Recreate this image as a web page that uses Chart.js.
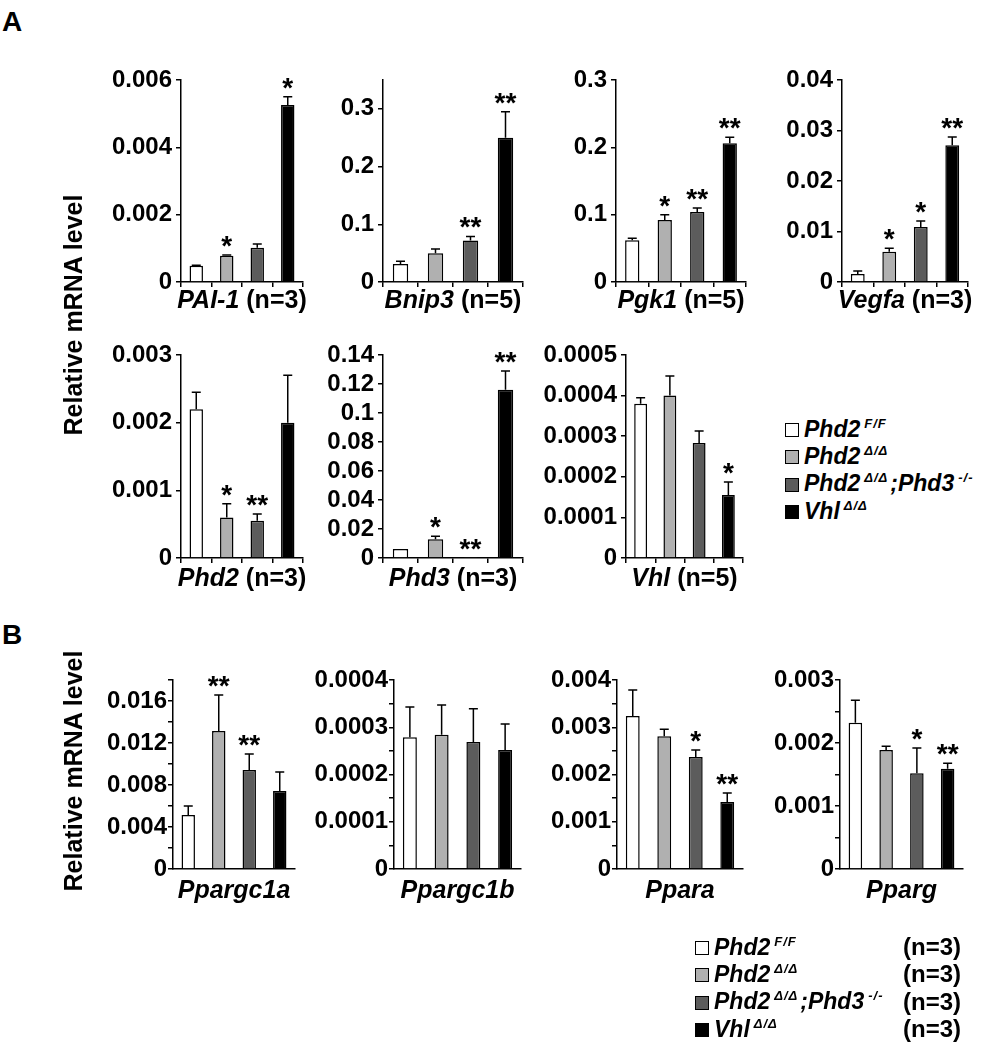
<!DOCTYPE html>
<html><head><meta charset="utf-8">
<script src="https://cdn.jsdelivr.net/npm/chart.js@4.4.1/dist/chart.umd.min.js"></script>
<style>
html,body{margin:0;padding:0;background:#fff}
body{width:989px;height:1050px;position:relative;overflow:hidden;font-family:'Liberation Sans',Arial,Helvetica,sans-serif;color:#000}
.abs{position:absolute;white-space:nowrap}
canvas{position:absolute}
.gl{font-weight:bold;font-size:25px;line-height:25px;text-align:center}
.gl i{font-style:italic}
.ytitle{font-weight:bold;font-size:25px;line-height:30px;width:320px;height:30px;text-align:center;transform:rotate(-90deg)}
.panel{font-weight:bold;font-size:28px;line-height:28px}
.sq{position:absolute;width:14px;height:14px;border:1.5px solid #000;box-sizing:border-box}
.lt{font-weight:bold;font-style:italic;font-size:23px;line-height:23px}
.lt span.sp{font-size:13px;position:relative;top:-9px;margin-left:4px;margin-right:2px;letter-spacing:1px}
.nn{font-weight:bold;font-size:24px;line-height:24px}
</style></head><body>
<script>
// ---- data ----
const groups = ['Phd2 F/F', 'Phd2 Δ/Δ', 'Phd2 Δ/Δ;Phd3 -/-', 'Vhl Δ/Δ'];
const groupN = ['(n=3)', '(n=3)', '(n=3)', '(n=3)'];

const pai1Mean = [0.00048, 0.00078, 0.00102, 0.00526];
const pai1Err  = [0.00002, 0.00002, 0.00011, 0.00024];
const pai1Sig  = ['', '*', '', '*'];
const pai1Ticks = ['0', '0.002', '0.004', '0.006'];

const bnip3Mean = [0.031, 0.050, 0.072, 0.250];
const bnip3Err  = [0.005, 0.007, 0.007, 0.045];
const bnip3Sig  = ['', '', '**', '**'];
const bnip3Ticks = ['0', '0.1', '0.2', '0.3'];

const pgk1Mean = [0.062, 0.092, 0.104, 0.206];
const pgk1Err  = [0.003, 0.008, 0.006, 0.009];
const pgk1Sig  = ['', '*', '**', '**'];
const pgk1Ticks = ['0', '0.1', '0.2', '0.3'];

const vegfaMean = [0.0016, 0.0060, 0.0109, 0.0271];
const vegfaErr  = [0.0006, 0.0007, 0.0012, 0.0016];
const vegfaSig  = ['', '*', '*', '**'];
const vegfaTicks = ['0', '0.01', '0.02', '0.03', '0.04'];

const phd2Mean = [0.0022, 0.0006, 0.00055, 0.0020];
const phd2Err  = [0.00025, 0.0002, 0.0001, 0.0007];
const phd2Sig  = ['', '*', '**', ''];
const phd2Ticks = ['0', '0.001', '0.002', '0.003'];

const phd3Mean = [0.0062, 0.013, 0.0003, 0.116];
const phd3Err  = [0, 0.002, 0, 0.013];
const phd3Sig  = ['', '*', '**', '**'];
const phd3Ticks = ['0', '0.02', '0.04', '0.06', '0.08', '0.1', '0.12', '0.14'];

const vhlMean = [0.00038, 0.00040, 0.000283, 0.000155];
const vhlErr  = [0.000015, 0.000048, 0.00003, 0.000032];
const vhlSig  = ['', '', '', '*'];
const vhlTicks = ['0', '0.0001', '0.0002', '0.0003', '0.0004', '0.0005'];

const ppargc1aMean = [0.00514, 0.01314, 0.00943, 0.00743];
const ppargc1aErr  = [0.00086, 0.00343, 0.00152, 0.00181];
const ppargc1aSig  = ['', '**', '**', ''];
const ppargc1aTicks = ['0', '0.004', '0.008', '0.012', '0.016'];

const ppargc1bMean = [0.000279, 0.000284, 0.000269, 0.000252];
const ppargc1bErr  = [0.000064, 0.000063, 0.00007, 0.000055];
const ppargc1bSig  = ['', '', '', ''];
const ppargc1bTicks = ['0', '0.0001', '0.0002', '0.0003', '0.0004'];

const pparaMean = [0.00324, 0.00281, 0.00237, 0.00142];
const pparaErr  = [0.00055, 0.00015, 0.00015, 0.00019];
const pparaSig  = ['', '', '*', '**'];
const pparaTicks = ['0', '0.001', '0.002', '0.003', '0.004'];

const ppargMean = [0.00232, 0.00189, 0.00152, 0.00159];
const ppargErr  = [0.00036, 0.00006, 0.0004, 0.00009];
const ppargSig  = ['', '', '*', '**'];
const ppargTicks = ['0', '0.001', '0.002', '0.003'];

// ---- styles ----
const barColors = ['#ffffff', '#b0b0b0', '#5c5c5c', '#000000'];
const FONT = '"Liberation Sans", Arial, Helvetica, sans-serif';

const specs = [
  {gene:'PAI-1', n:' (n=3)', mean:pai1Mean, err:pai1Err, sig:pai1Sig, ticks:pai1Ticks, max:0.006, step:0.002, box:[181,80,303,282], labelTop:287, panelA:true},
  {gene:'Bnip3', n:' (n=5)', mean:bnip3Mean, err:bnip3Err, sig:bnip3Sig, ticks:bnip3Ticks, max:0.35, step:0.1, box:[383,80,523,282], labelTop:287, panelA:true},
  {gene:'Pgk1', n:' (n=5)', mean:pgk1Mean, err:pgk1Err, sig:pgk1Sig, ticks:pgk1Ticks, max:0.3, step:0.1, box:[616,80,746,282], labelTop:287, panelA:true},
  {gene:'Vegfa', n:' (n=3)', mean:vegfaMean, err:vegfaErr, sig:vegfaSig, ticks:vegfaTicks, max:0.04, step:0.01, box:[842,80,968,282], labelTop:287, panelA:true},
  {gene:'Phd2', n:' (n=3)', mean:phd2Mean, err:phd2Err, sig:phd2Sig, ticks:phd2Ticks, max:0.003, step:0.001, box:[181,355,303,558], labelTop:565, panelA:true},
  {gene:'Phd3', n:' (n=3)', mean:phd3Mean, err:phd3Err, sig:phd3Sig, ticks:phd3Ticks, max:0.14, step:0.02, box:[383,355,523,558], labelTop:565, panelA:true},
  {gene:'Vhl', n:' (n=5)', mean:vhlMean, err:vhlErr, sig:vhlSig, ticks:vhlTicks, max:0.0005, step:0.0001, box:[626,355,743,558], labelTop:565, panelA:true},
  {gene:'Ppargc1a', n:'', mean:ppargc1aMean, err:ppargc1aErr, sig:ppargc1aSig, ticks:ppargc1aTicks, max:0.018, step:0.002, box:[173,680,295,869], labelTop:877, panelA:false},
  {gene:'Ppargc1b', n:'', mean:ppargc1bMean, err:ppargc1bErr, sig:ppargc1bSig, ticks:ppargc1bTicks, max:0.0004, step:0.00005, box:[394,680,521,869], labelTop:877, panelA:false},
  {gene:'Ppara', n:'', mean:pparaMean, err:pparaErr, sig:pparaSig, ticks:pparaTicks, max:0.004, step:0.0005, box:[617,680,743,869], labelTop:877, panelA:false},
  {gene:'Pparg', n:'', mean:ppargMean, err:ppargErr, sig:ppargSig, ticks:ppargTicks, max:0.003, step:0.0005, box:[840,680,963,869], labelTop:877, panelA:false}
];

const errPlugin = {
  id: 'errs',
  afterDatasetsDraw(chart, args, opts) {
    const ctx = chart.ctx, y = chart.scales.y;
    const meta = chart.getDatasetMeta(0);
    const vals = chart.data.datasets[0].data;
    ctx.save();
    ctx.strokeStyle = '#000'; ctx.fillStyle = '#000'; ctx.lineWidth = 1.5;
    ctx.font = 'bold 28px ' + FONT;
    ctx.textAlign = 'center'; ctx.textBaseline = 'alphabetic';
    meta.data.forEach((bar, i) => {
      const e = opts.err[i];
      const yTop = y.getPixelForValue(vals[i] + e);
      if (e > 0) {
        ctx.beginPath();
        ctx.moveTo(bar.x, bar.y); ctx.lineTo(bar.x, yTop);
        ctx.moveTo(bar.x - 4.5, yTop); ctx.lineTo(bar.x + 4.5, yTop);
        ctx.stroke();
      }
      if (opts.sig[i]) ctx.fillText(opts.sig[i], bar.x, yTop);
    });
    ctx.restore();
  }
};

const YW = 95, R = 12, T = 34, XH = 20;

function fmt(v) { return String(parseFloat(Number(v).toPrecision(10))); }

function addDiv(cls, html, left, top, extra) {
  const d = document.createElement('div');
  d.className = 'abs ' + cls;
  d.innerHTML = html;
  d.style.left = left + 'px'; d.style.top = top + 'px';
  if (extra) Object.assign(d.style, extra);
  document.body.appendChild(d);
  return d;
}

specs.forEach(s => {
  const [x0, y0, x1, y1] = s.box;
  const pw = x1 - x0, ph = y1 - y0;
  const cv = document.createElement('canvas');
  cv.width = YW + pw + R; cv.height = T + ph + XH;
  cv.style.width = cv.width + 'px'; cv.style.height = cv.height + 'px';
  cv.style.left = (x0 - YW) + 'px'; cv.style.top = (y0 - T) + 'px';
  document.body.appendChild(cv);
  new Chart(cv.getContext('2d'), {
    type: 'bar',
    data: { labels: groups, datasets: [{ data: s.mean, backgroundColor: barColors, borderColor: '#000', borderWidth: 1.5, barPercentage: 0.44, categoryPercentage: 1.0 }] },
    options: {
      responsive: false, animation: false, devicePixelRatio: 1,
      layout: { padding: { top: T, right: R, bottom: 0, left: 0 } },
      plugins: { legend: { display: false }, tooltip: { enabled: false }, title: { display: false }, errs: { err: s.err, sig: s.sig } },
      scales: {
        x: {
          afterFit: sc => { sc.height = XH; },
          ticks: { display: false },
          grid: { display: s.panelA, offset: true, drawOnChartArea: false, drawTicks: true, tickLength: 5, color: '#000', lineWidth: 1.5 },
          border: { display: true, color: '#000', width: 1.5 }
        },
        y: {
          min: 0, max: s.max,
          afterFit: sc => { sc.width = YW; },
          ticks: {
            stepSize: s.step, includeBounds: false, autoSkip: false, padding: s.panelA ? 4 : 1,
            color: '#000', font: { family: FONT, size: 24, weight: 'bold' },
            callback: v => { const t = fmt(v); return s.ticks.includes(t) ? t : ''; }
          },
          grid: { display: true, drawOnChartArea: false, drawTicks: true, tickLength: 5, color: '#000', lineWidth: 1.5 },
          border: { display: true, color: '#000', width: 1.5 }
        }
      }
    },
    plugins: [errPlugin]
  });
  addDiv('gl', '<i>' + s.gene + '</i>' + s.n, x0 - 5, s.labelTop, { width: (pw + 10) + 'px' });
});

// panel letters and axis titles
addDiv('panel', 'A', 2, 8);
addDiv('panel', 'B', 2, 621);
addDiv('ytitle', 'Relative mRNA level', 73 - 160, 315 - 15);
addDiv('ytitle', 'Relative mRNA level', 73 - 160, 771 - 15);

// legends
const legendHtml = [
  'Phd2<span class="sp">F/F</span>',
  'Phd2<span class="sp">Δ/Δ</span>',
  'Phd2<span class="sp">Δ/Δ</span>;Phd3<span class="sp">-/-</span>',
  'Vhl<span class="sp">Δ/Δ</span>'
];
function legend(sqLeft, baseline0, withN) {
  groups.forEach((g, i) => {
    const b = baseline0 + i * 27.3;
    const sq = document.createElement('div');
    sq.className = 'sq';
    sq.style.left = sqLeft + 'px'; sq.style.top = (b - 14) + 'px';
    sq.style.background = barColors[i];
    document.body.appendChild(sq);
    addDiv('lt', legendHtml[i], sqLeft + 19, b - 19.3);
    if (withN) addDiv('nn', groupN[i], 903, b - 20);
  });
}
legend(785, 437, false);
legend(695, 955, true);
</script>
</body></html>
